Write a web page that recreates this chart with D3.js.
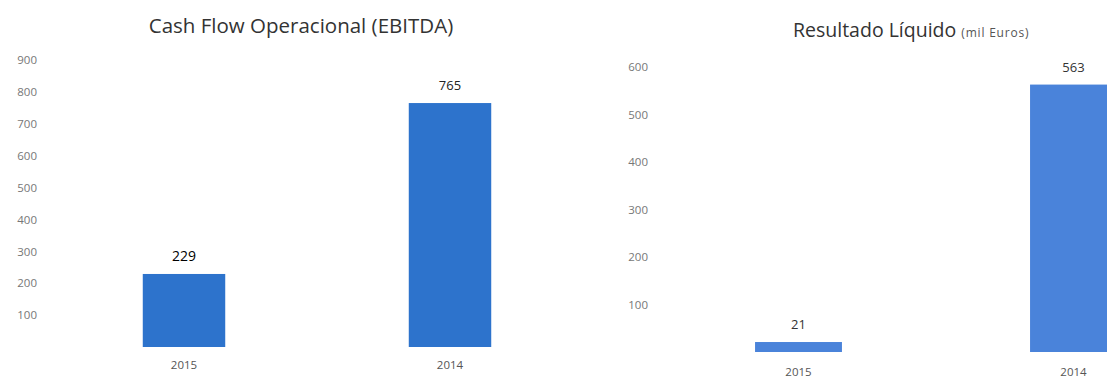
<!DOCTYPE html>
<html><head><meta charset="utf-8">
<script src="https://cdn.jsdelivr.net/npm/d3@7/dist/d3.min.js"></script>
<style>
html,body{margin:0;padding:0;background:#fff;overflow:hidden}
svg{display:block}
.tick text{font-family:"Open Sans",sans-serif}
</style></head>
<body>
<svg id="c" width="1107" height="380"></svg>
<script>
const categories = ["2015", "2014"];
const ebitdaValues = [229, 765];
const resultadoValues = [21, 563];
const ebitdaTicks = [100, 200, 300, 400, 500, 600, 700, 800, 900];
const resultadoTicks = [100, 200, 300, 400, 500, 600];

const svg = d3.select("#c");
const font = "'Open Sans', sans-serif";

function panel(cfg) {
  const g = svg.append("g");
  const x = d3.scaleBand().domain(categories).range(cfg.xRange)
    .paddingInner(cfg.pad).paddingOuter(cfg.pad / 2);
  const y = d3.scaleLinear().domain(cfg.yDomain).range(cfg.yRange);
  const data = categories.map((c, i) => ({c, v: cfg.values[i]}));

  const ya = g.append("g").attr("transform", `translate(${cfg.axisX},0)`)
    .call(d3.axisLeft(y).tickValues(cfg.ticks).tickSize(0).tickPadding(0).tickFormat(d3.format("d")));
  ya.select(".domain").remove();
  ya.selectAll("text").attr("fill", "#777").style("font-size", "11.5px").style("font-family", font);

  g.selectAll("rect.bar").data(data).join("rect").attr("class", "bar")
    .attr("x", d => x(d.c)).attr("width", x.bandwidth())
    .attr("y", d => y(d.v)).attr("height", d => y(0) - y(d.v))
    .attr("fill", cfg.color);

  g.selectAll("text.val").data(data).join("text").attr("class", "val")
    .attr("x", d => x(d.c) + x.bandwidth() / 2).attr("y", d => y(d.v) - 13)
    .attr("text-anchor", "middle").attr("fill", (d, i) => cfg.valColors[i])
    .style("font-family", font).style("font-size", (d, i) => cfg.valSizes[i]).text(d => d.v);

  const xa = g.append("g").attr("transform", `translate(0,${cfg.catY})`)
    .call(d3.axisBottom(x).tickSize(0).tickPadding(0));
  xa.select(".domain").remove();
  xa.selectAll("text").attr("fill", "#555").style("font-size", "11.5px").style("font-family", font);
  return g;
}

panel({xRange: [51, 583], pad: 0.69, yDomain: [0, 900], yRange: [347, 60], axisX: 37,
  ticks: ebitdaTicks, values: ebitdaValues, color: "#2d73cc", catY: 361,
  valColors: ["#000", "#222"], valSizes: ["14px", "13px"]});
panel({xRange: [661, 1211], pad: 0.684, yDomain: [0, 600], yRange: [352, 67], axisX: 648,
  ticks: resultadoTicks, values: resultadoValues, color: "#4a83da", catY: 368,
  valColors: ["#333", "#333"], valSizes: ["13px", "13px"]});

svg.append("text").attr("x", 301).attr("y", 33).attr("text-anchor", "middle")
  .attr("fill", "#333").style("font-family", font).style("font-size", "20.5px")
  .text("Cash Flow Operacional (EBITDA)");

const t2 = svg.append("text").attr("x", 793).attr("y", 37).attr("fill", "#333")
  .style("font-family", font).style("font-size", "19.5px");
t2.append("tspan").text("Resultado Líquido ");
t2.append("tspan").style("font-size", "12px").style("letter-spacing", "0.8px")
  .attr("fill", "#555").text("(mil Euros)");
</script>
</body></html>
